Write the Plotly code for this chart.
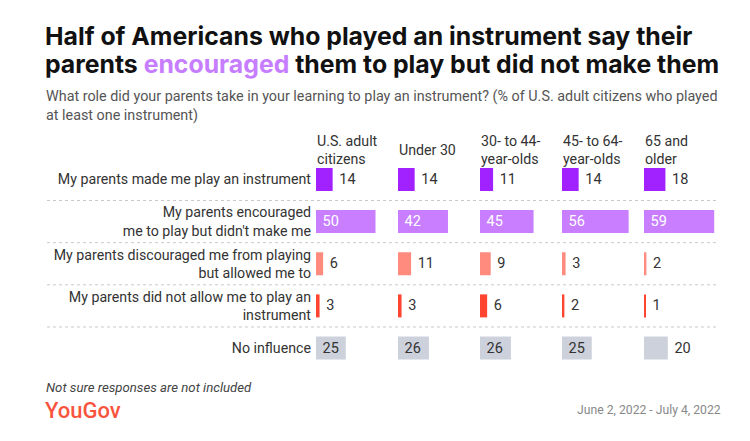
import plotly.graph_objects as go

# ---- data ----
groups = ["U.S. adult<br>citizens", "Under 30", "30- to 44-<br>year-olds",
          "45- to 64-<br>year-olds", "65 and<br>older"]
rows = ["My parents made me play an instrument",
        "My parents encouraged<br>me to play but didn't make me",
        "My parents discouraged me from playing<br>but allowed me to",
        "My parents did not allow me to play an<br>instrument",
        "No influence"]
us_adults = [14, 50, 6, 3, 25]
under_30 = [14, 42, 11, 3, 26]
age_30_44 = [11, 45, 9, 6, 26]
age_45_64 = [14, 56, 3, 2, 25]
age_65_plus = [18, 59, 2, 1, 20]
group_values = [us_adults, under_30, age_30_44, age_45_64, age_65_plus]

row_colors = ["#A122FF", "#C87EFF", "#FF8B7E", "#FF4430", "#CDD1DC"]
inside_text_colors = ["#333333", "#FFFFFF", "#333333", "#333333", "#333333"]
inside_rows = [False, True, False, False, True]

W, H = 750, 441
FONT = "Roboto"
TITLE_FONT = "Inter"

def px(x):
    return x / W

def py(y):
    return 1 - y / H

panel_starts = [316, 398, 480, 562, 644]
panel_width = 80
scale = 1.19  # px per percentage point
xmax = panel_width / scale

fig = go.Figure()
layout_axes = {}
for i, vals in enumerate(group_values):
    xa = "x" if i == 0 else f"x{i+1}"
    positions = []
    for r, v in enumerate(vals):
        positions.append("inside" if (inside_rows[r] and v >= 22) else "outside")
    fig.add_trace(go.Bar(
        x=vals, y=rows, orientation="h",
        xaxis=xa, yaxis="y",
        marker=dict(color=row_colors, line=dict(width=0)),
        texttemplate="\u00a0%{x}",
        textposition=positions,
        insidetextanchor="start",
        insidetextfont=dict(family=FONT, size=14.5, color=inside_text_colors),
        outsidetextfont=dict(family=FONT, size=14.5, color="#333333"),
        cliponaxis=False,
        hoverinfo="skip",
    ))
    key = "xaxis" if i == 0 else f"xaxis{i+1}"
    layout_axes[key] = dict(
        domain=[px(panel_starts[i]), px(panel_starts[i] + panel_width)],
        range=[0, xmax], anchor="y",
        showgrid=False, zeroline=False, showticklabels=False, showline=False,
        fixedrange=True,
    )

row_top, row_bot = 158.4, 369.1
fig.update_layout(
    width=W, height=H,
    margin=dict(l=0, r=0, t=0, b=0),
    paper_bgcolor="white", plot_bgcolor="white",
    showlegend=False,
    bargap=0.454,
    yaxis=dict(
        domain=[py(row_bot), py(row_top)],
        categoryorder="array", categoryarray=rows,
        range=[4.5, -0.5],
        showgrid=False, zeroline=False, showline=False, ticks="",
        tickfont=dict(family=FONT, size=14.2, color="#333333"),
        ticklabelstandoff=4,
        anchor="x",
        fixedrange=True,
    ),
    **layout_axes,
)

# dotted separators between rows
for k in range(len(rows) - 1):
    fig.add_shape(type="line", xref="paper", yref="y",
                  x0=px(47), x1=px(718), y0=k + 0.5, y1=k + 0.5,
                  line=dict(color="#C8C8C8", width=1, dash="dot"))

annotations = []
# column headers
for i, g in enumerate(groups):
    annotations.append(dict(
        text=g, x=px(panel_starts[i] - 1), y=py(150), xref="paper", yref="paper",
        xanchor="left", yanchor="middle", align="left", showarrow=False,
        font=dict(family=FONT, size=14.2, color="#333333")))

# title lines
annotations.append(dict(
    text="<b>Half of Americans who played an instrument say their</b>",
    x=px(43), y=py(35.5), xref="paper", yref="paper", xanchor="left", yanchor="middle",
    showarrow=False, font=dict(family=TITLE_FONT, size=24.8, color="#111111")))
annotations.append(dict(
    text="<b>parents <span style='color:#C77DFF'>encouraged</span> them to play but did not make them</b>",
    x=px(43), y=py(64), xref="paper", yref="paper", xanchor="left", yanchor="middle",
    showarrow=False, font=dict(family=TITLE_FONT, size=24.8, color="#111111")))
# subtitle
annotations.append(dict(
    text="What role did your parents take in your learning to play an instrument? (% of U.S. adult citizens who played",
    x=px(44), y=py(97), xref="paper", yref="paper", xanchor="left", yanchor="middle",
    showarrow=False, font=dict(family=FONT, size=14.35, color="#555555")))
annotations.append(dict(
    text="at least one instrument)",
    x=px(44), y=py(115), xref="paper", yref="paper", xanchor="left", yanchor="middle",
    showarrow=False, font=dict(family=FONT, size=14.35, color="#555555")))
# footer
annotations.append(dict(
    text="<i>Not sure responses are not included</i>",
    x=px(44), y=py(387), xref="paper", yref="paper", xanchor="left", yanchor="middle",
    showarrow=False, font=dict(family=FONT, size=13.2, color="#444444")))
annotations.append(dict(
    text="YouGov",
    x=px(43), y=py(410), xref="paper", yref="paper", xanchor="left", yanchor="middle",
    showarrow=False, font=dict(family=FONT, size=22, color="#F9553E", weight=500)))
annotations.append(dict(
    text="June 2, 2022 - July 4, 2022",
    x=px(723), y=py(410), xref="paper", yref="paper", xanchor="right", yanchor="middle",
    showarrow=False, font=dict(family=FONT, size=12.2, color="#888888")))

fig.update_layout(annotations=annotations)
fig.write_html("out.html", config={"displayModeBar": False},
               post_script="document.body.style.margin='0';")
